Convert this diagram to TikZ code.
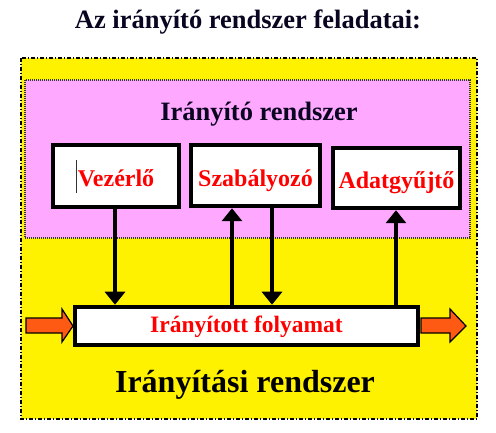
\documentclass[tikz,border=0pt]{standalone}
\usepackage{fontspec}
\setmainfont{Liberation Serif}
\usetikzlibrary{arrows.meta}
\definecolor{pinkbg}{HTML}{FFA8FF}
\definecolor{orng}{HTML}{FF5A14}
\definecolor{navy}{HTML}{0A0520}
\begin{document}
\begin{tikzpicture}[x=1pt,y=-1pt,
  box/.style={draw=black,line width=4.5pt,fill=white,inner sep=0pt},
  lbl/.style={text=red,font=\bfseries\fontsize{24}{28}\selectfont},
  conn/.style={line width=4pt,-{Triangle[width=20pt,length=13pt]}},
  fatarrow/.style={fill=orng,draw=black,line width=1.2pt,line join=miter}]
\useasboundingbox (0,0) rectangle (496,433);
\fill[white] (0,0) rectangle (496,433);
% title
\node[text=navy,font=\bfseries\fontsize{26.5}{30}\selectfont] (title) at (248,22) {Az irányító rendszer feladatai:};
% yellow outer
\draw[fill=yellow,line width=1.1pt,dash pattern=on 4pt off 2pt on 1pt off 2pt] (21,58) rectangle (477,419);
% pink
\draw[fill=pinkbg,draw=black!80,line width=1.6pt,dash pattern=on 1pt off 1pt] (25,80) rectangle (470,238);
\node[text=navy,font=\bfseries\fontsize{26.5}{30}\selectfont] (irt) at (259,114) {Irányító rendszer};
% boxes
\node[box,minimum width=126pt,minimum height=62pt] (vez) at (116,176) {};
\node[lbl] at (116,178) {Vezérlő};
\draw[line width=1pt,black!80] (76,160) -- (76,193);
\node[box,minimum width=129pt,minimum height=61pt] (sza) at (255.5,175.5) {};
\node[lbl] at (255.5,181) {Szabályozó};
\node[box,minimum width=127pt,minimum height=60pt] (ada) at (396.5,178) {};
\node[lbl] at (396.5,183) {Adatgyűjtő};
\node[box,minimum width=343pt,minimum height=38pt] (fol) at (246.5,326) {};
\node[text=red,font=\bfseries\fontsize{23.5}{27}\selectfont] at (246.5,327) {Irányított folyamat};
% connectors
\draw[conn] (vez.south -| 115,0) -- (fol.north -| 115,0);
\draw[conn] (fol.north -| 232,0) -- (sza.south -| 232,0);
\draw[conn] (sza.south -| 272,0) -- (fol.north -| 272,0);
\draw[conn] (fol.north -| 396,0) -- (ada.south -| 396,0);
% orange arrows
\draw[fatarrow] (26,318) -- (62,318) -- (62,309) -- (73,326) -- (62,342) -- (62,333) -- (26,333) -- cycle;
\draw[fatarrow] (421,318) -- (450,318) -- (450,309) -- (466,326) -- (450,342) -- (450,333) -- (421,333) -- cycle;
% bottom label
\node[text=black,font=\bfseries\fontsize{32}{36}\selectfont] (irs) at (245,385) {Irányítási rendszer};
\end{tikzpicture}
\end{document}
